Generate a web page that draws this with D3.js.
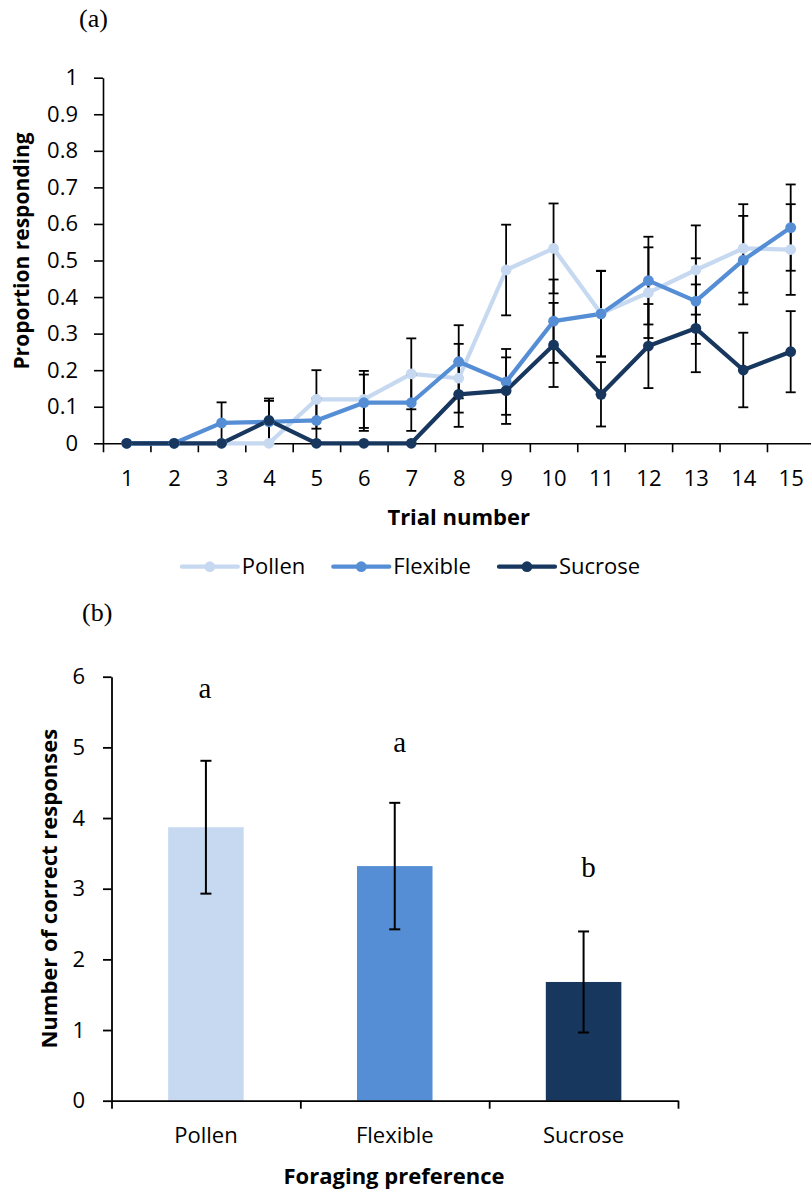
<!DOCTYPE html>
<html>
<head>
<meta charset="utf-8">
<script src="https://cdn.jsdelivr.net/npm/d3@7"></script>
<style>
  html, body { margin: 0; padding: 0; background: #fff; }
  svg { display: block; }
  text { font-family: "Open Sans", sans-serif; fill: #000; }
</style>
</head>
<body>
<svg id="chart" width="811" height="1191"></svg>
<script>
// ---------- Data: panel (a) ----------
const trials = [1,2,3,4,5,6,7,8,9,10,11,12,13,14,15];
const seriesNames = ["Pollen", "Flexible", "Sucrose"];
const pollen   = [0, 0, 0, 0, 0.12, 0.12, 0.19, 0.178, 0.474, 0.533, 0.355, 0.412, 0.474, 0.533, 0.53];
const flexible = [0, 0, 0.056, 0.059, 0.0625, 0.111, 0.111, 0.223, 0.168, 0.334, 0.354, 0.445, 0.389, 0.501, 0.59];
const sucrose  = [0, 0, 0, 0.0625, 0, 0, 0, 0.134, 0.144, 0.269, 0.134, 0.266, 0.3145, 0.2005, 0.2505];
const pollenErr   = [0, 0, 0, 0, 0.08, 0.078, 0.097, 0.094, 0.124, 0.123, 0.117, 0.124, 0.122, 0.121, 0.124];
const flexibleErr = [0, 0, 0.056, 0.057, 0.06, 0.077, 0.077, 0.1, 0.09, 0.114, 0.117, 0.12, 0.117, 0.121, 0.118];
const sucroseErr  = [0, 0, 0, 0.06, 0, 0, 0, 0.089, 0.091, 0.115, 0.088, 0.115, 0.12, 0.102, 0.111];
const yTickLabelsA = ["0","0.1","0.2","0.3","0.4","0.5","0.6","0.7","0.8","0.9","1"];

// ---------- Data: panel (b) ----------
const categories = ["Pollen", "Flexible", "Sucrose"];
const meanCorrect = [3.87, 3.32, 1.68];
const errCorrect  = [0.94, 0.895, 0.715];
const sigLetters  = ["a", "a", "b"];
const sigLetterAt = [5.70, 4.94, 3.16];
const yTickLabelsB = ["0","1","2","3","4","5","6"];

const colors = ["#c6d9f1", "#558ed5", "#17375e"];

const svg = d3.select("#chart");

// ================= Panel (a) =================
const A = { left: 103, right: 814.4, top: 77.7, bottom: 443.3 };
const xA = d3.scaleLinear().domain([0.5, 15.5]).range([A.left, A.right]);
const yA = d3.scaleLinear().domain([0, 1]).range([A.bottom, A.top]);

const gA = svg.append("g");

// panel label
svg.append("text").attr("x", 79).attr("y", 27)
  .style("font-family", "'Liberation Serif', serif").style("font-size", "26px").text("(a)");

// y axis
const yAxisA = gA.append("g").attr("transform", `translate(${A.left},0)`)
  .call(d3.axisLeft(yA).tickValues(yTickLabelsA.map(Number))
    .tickFormat((d, i) => yTickLabelsA[i]).tickSize(9).tickSizeOuter(0).tickPadding(16));
// x axis: boundary ticks
const xAxisA = gA.append("g").attr("transform", `translate(0,${A.bottom})`)
  .call(d3.axisBottom(xA).tickValues(trials.map(t => t - 0.5)).tickFormat("").tickSize(9).tickSizeOuter(0));
// x axis: labels at centres
const xLabA = gA.append("g").attr("transform", `translate(0,${A.bottom})`)
  .call(d3.axisBottom(xA).tickValues(trials).tickFormat(d3.format("d")).tickSize(0).tickPadding(27));
xLabA.select(".domain").remove();

[yAxisA, xAxisA, xLabA].forEach(g => {
  g.selectAll("path, line").attr("stroke", "#000").attr("stroke-width", 1.6);
  g.selectAll("text").style("font-size", "22px").style("font-family", "'Open Sans', sans-serif").attr("fill", "#000");
});

// axis titles
gA.append("text").attr("transform", `translate(29,251) rotate(-90)`)
  .attr("text-anchor", "middle").style("font-size", "21px").style("font-weight", "bold")
  .text("Proportion responding");
gA.append("text").attr("x", (A.left + A.right) / 2).attr("y", 525)
  .attr("text-anchor", "middle").style("font-size", "22px").style("font-weight", "bold")
  .text("Trial number");

const seriesA = [
  { name: seriesNames[0], vals: pollen, errs: pollenErr, color: colors[0] },
  { name: seriesNames[1], vals: flexible, errs: flexibleErr, color: colors[1] },
  { name: seriesNames[2], vals: sucrose, errs: sucroseErr, color: colors[2] }
];

const line = d3.line().x((d, i) => xA(trials[i])).y(d => yA(d));

// lines
seriesA.forEach(s => {
  gA.append("path").datum(s.vals).attr("d", line)
    .attr("fill", "none").attr("stroke", s.color).attr("stroke-width", 4.2)
    .attr("stroke-linejoin", "round").attr("stroke-linecap", "round");
});
// error bars
seriesA.forEach(s => {
  const eg = gA.append("g");
  const pts = trials.map((t, i) => ({ t, v: s.vals[i], e: s.errs[i] })).filter(d => d.e > 0);
  eg.selectAll("line.v").data(pts).join("line")
    .attr("x1", d => xA(d.t)).attr("x2", d => xA(d.t))
    .attr("y1", d => yA(d.v - d.e)).attr("y2", d => yA(d.v + d.e))
    .attr("stroke", "#000").attr("stroke-width", 1.8);
  ["top", "bot"].forEach(k => {
    eg.selectAll("line." + k).data(pts).join("line")
      .attr("x1", d => xA(d.t) - 5).attr("x2", d => xA(d.t) + 5)
      .attr("y1", d => yA(k === "top" ? d.v + d.e : d.v - d.e))
      .attr("y2", d => yA(k === "top" ? d.v + d.e : d.v - d.e))
      .attr("stroke", "#000").attr("stroke-width", 1.8);
  });
});
// markers
seriesA.forEach(s => {
  gA.append("g").selectAll("circle").data(s.vals).join("circle")
    .attr("cx", (d, i) => xA(trials[i])).attr("cy", d => yA(d)).attr("r", 5.4)
    .attr("fill", s.color);
});

// legend
const legend = svg.append("g");
const legItems = [];
let lx = 0;
seriesA.forEach(s => {
  const it = legend.append("g").attr("transform", `translate(${lx},0)`);
  it.append("line").attr("x1", 0).attr("x2", 56).attr("y1", 0).attr("y2", 0)
    .attr("stroke", s.color).attr("stroke-width", 4.2).attr("stroke-linecap", "round");
  it.append("circle").attr("cx", 28).attr("cy", 0).attr("r", 5.4).attr("fill", s.color);
  const t = it.append("text").attr("x", 60).attr("y", 0).attr("dy", "0.35em")
    .style("font-size", "22px").text(s.name);
  lx += 60 + t.node().getComputedTextLength() + 28;
});
const legW = lx - 28;
legend.attr("transform", `translate(${411 - legW / 2},566.7)`);

// ================= Panel (b) =================
const B = { left: 111.5, right: 678, top: 676.7, bottom: 1100.7 };
const yB = d3.scaleLinear().domain([0, 6]).range([B.bottom, B.top]);
const xB = d3.scaleBand().domain(categories).range([B.left, B.right]).paddingInner(0.6).paddingOuter(0.3);
const xBedge = d3.scaleLinear().domain([0, categories.length]).range([B.left, B.right]);

const gB = svg.append("g");
svg.append("text").attr("x", 82).attr("y", 621)
  .style("font-family", "'Liberation Serif', serif").style("font-size", "26px").text("(b)");

// bars
gB.selectAll("rect").data(categories).join("rect")
  .attr("x", d => xB(d)).attr("width", xB.bandwidth())
  .attr("y", (d, i) => yB(meanCorrect[i]))
  .attr("height", (d, i) => yB(0) - yB(meanCorrect[i]))
  .attr("fill", (d, i) => colors[i]);

// axes
const yAxisB = gB.append("g").attr("transform", `translate(${B.left},0)`)
  .call(d3.axisLeft(yB).tickValues(yTickLabelsB.map(Number))
    .tickFormat((d, i) => yTickLabelsB[i]).tickSize(8.5).tickSizeOuter(0).tickPadding(18));
const xAxisB = gB.append("g").attr("transform", `translate(0,${B.bottom})`)
  .call(d3.axisBottom(xBedge).tickValues(d3.range(categories.length + 1)).tickFormat("").tickSize(8).tickSizeOuter(0));
const xLabB = gB.append("g").attr("transform", `translate(0,${B.bottom})`)
  .call(d3.axisBottom(xB).tickSize(0).tickPadding(27));
xLabB.select(".domain").remove();
[yAxisB, xAxisB, xLabB].forEach(g => {
  g.selectAll("path, line").attr("stroke", "#000").attr("stroke-width", 1.8);
  g.selectAll("text").style("font-size", "22px").style("font-family", "'Open Sans', sans-serif").attr("fill", "#000");
});

// error bars
const eb = gB.append("g");
categories.forEach((c, i) => {
  const cx = xB(c) + xB.bandwidth() / 2;
  const hi = yB(meanCorrect[i] + errCorrect[i]), lo = yB(meanCorrect[i] - errCorrect[i]);
  eb.append("line").attr("x1", cx).attr("x2", cx).attr("y1", lo).attr("y2", hi)
    .attr("stroke", "#000").attr("stroke-width", 2);
  [hi, lo].forEach(y => eb.append("line").attr("x1", cx - 5.5).attr("x2", cx + 5.5)
    .attr("y1", y).attr("y2", y).attr("stroke", "#000").attr("stroke-width", 2));
});

// significance letters
gB.selectAll("text.sig").data(sigLetters).join("text").attr("class", "sig")
  .attr("x", (d, i) => xB(categories[i]) + xB.bandwidth() / 2 + (i === 0 ? -1 : 5))
  .attr("y", (d, i) => yB(sigLetterAt[i]))
  .attr("text-anchor", "middle")
  .style("font-family", "'Liberation Serif', serif").style("font-size", "29px")
  .text(d => d);

// axis titles
gB.append("text").attr("transform", `translate(57,888.7) rotate(-90)`)
  .attr("text-anchor", "middle").style("font-size", "22px").style("font-weight", "bold")
  .text("Number of correct responses");
gB.append("text").attr("x", 394).attr("y", 1184)
  .attr("text-anchor", "middle").style("font-size", "22px").style("font-weight", "bold")
  .text("Foraging preference");
</script>
</body>
</html>
